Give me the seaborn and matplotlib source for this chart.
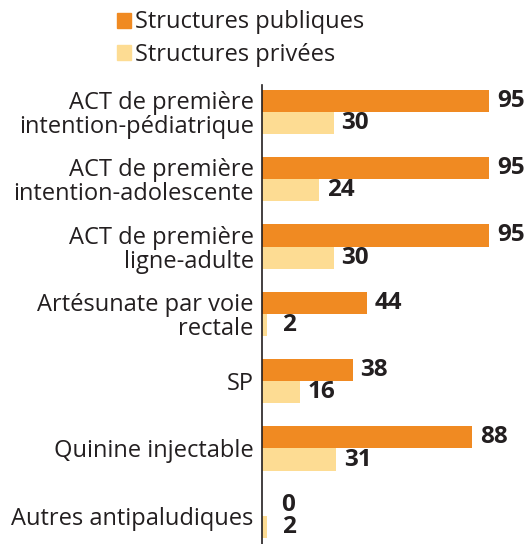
import numpy as np
import pandas as pd
import matplotlib
matplotlib.use("Agg")
import matplotlib.pyplot as plt
import seaborn as sns
from matplotlib.patches import Patch

categories = [
    "ACT de première\nintention-pédiatrique",
    "ACT de première\nintention-adolescente",
    "ACT de première\nligne-adulte",
    "Artésunate par voie\nrectale",
    "SP",
    "Quinine injectable",
    "Autres antipaludiques",
]
publiques = [95, 95, 95, 44, 38, 88, 0]
privees = [30, 24, 30, 2, 16, 31, 2]
series = ["Structures publiques", "Structures privées"]
colors = ["#F08A22", "#FDDC93"]

df = pd.DataFrame({
    "cat": categories * 2,
    "val": publiques + privees,
    "serie": [series[0]] * len(categories) + [series[1]] * len(categories),
})

sns.set_style("white")
plt.rcParams["font.family"] = ["Open Sans", "DejaVu Sans"]
fs = 17

fig = plt.figure(figsize=(5.31, 5.44), dpi=100)
ax = fig.add_axes([262 / 531, 0, 263 / 531, 459 / 544])

sns.barplot(data=df, y="cat", x="val", hue="serie", orient="h",
            palette=colors, width=0.66, dodge=True, gap=0, ax=ax,
            saturation=1, legend=False, linewidth=0)

ax.set_xlim(0, 110)
ax.set_ylim(6.42, -0.4)
ax.set_xlabel("")
ax.set_ylabel("")
ax.set_xticks([])
ax.tick_params(axis="y", length=0, pad=6, labelsize=fs, colors="#231F20")
for lab in ax.get_yticklabels():
    lab.set_horizontalalignment("right")
    lab.set_multialignment("right")
    lab.set_linespacing(1.0)
for s in ["top", "right", "bottom"]:
    ax.spines[s].set_visible(False)
ax.spines["left"].set_color("#231F20")
ax.spines["left"].set_linewidth(1.2)

# value labels
off = 0.66 / 4
for i, (a, b) in enumerate(zip(publiques, privees)):
    ax.text(max(a, 5) + 3.2, i - off, str(a), va="center", ha="left",
            fontsize=17.5, fontweight="bold", color="#231F20")
    ax.text(max(b, 5) + 3.2, i + off, str(b), va="center", ha="left",
            fontsize=17.5, fontweight="bold", color="#231F20")

handles = [Patch(color=c, label=s) for c, s in zip(colors, series)]
fig.legend(handles=handles, loc="upper left", bbox_to_anchor=(96 / 531, 1.02),
           frameon=False, fontsize=fs, handlelength=0.6, handleheight=0.6,
           handletextpad=0.15, labelspacing=0.35, labelcolor="#231F20")

fig.savefig("out.png", dpi=100)
